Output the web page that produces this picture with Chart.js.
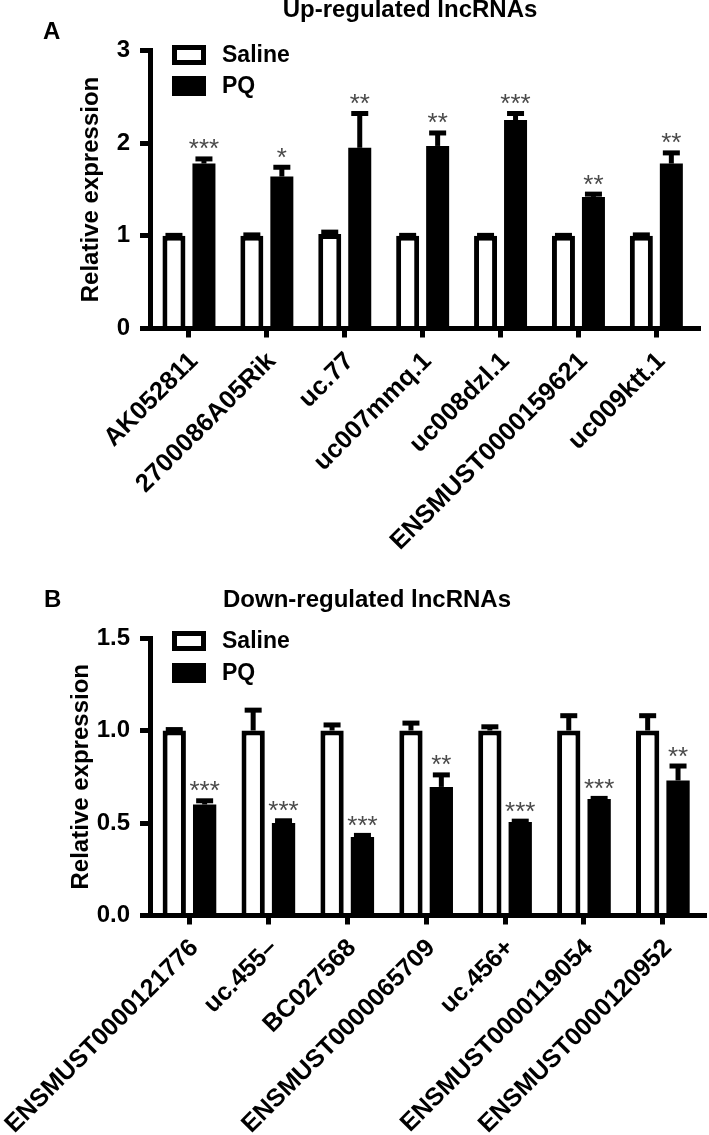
<!DOCTYPE html>
<html><head><meta charset="utf-8">
<script src="https://cdn.jsdelivr.net/npm/chart.js@4.4.0/dist/chart.umd.min.js"></script>
<style>
html,body{margin:0;padding:0;background:#fff;}
#wrapA{position:absolute;left:0;top:0;width:709px;height:560px;}
#wrapB{position:absolute;left:0;top:560px;width:709px;height:575px;}
canvas{display:block;}
</style></head><body>
<div id="wrapA"><canvas id="cA" width="709" height="560"></canvas></div>
<div id="wrapB"><canvas id="cB" width="709" height="575"></canvas></div>
<script>
// ---- Data: panel A (up-regulated) ----
const upCategories = ['AK052811','2700086A05Rik','uc.77','uc007mmq.1','uc008dzl.1','ENSMUST0000159621','uc009ktt.1'];
const upSaline    = [1.00, 1.00, 1.02, 1.00, 1.00, 1.00, 1.00];
const upSalineErr = [0.005, 0.01, 0.02, 0.005, 0.005, 0.005, 0.01];
const upPQ        = [1.78, 1.64, 1.95, 1.97, 2.25, 1.42, 1.78];
const upPQErr     = [0.05, 0.10, 0.37, 0.14, 0.07, 0.03, 0.115];
const upStars     = ['***','*','**','**','***','**','**'];
const upTicks     = [0, 1, 2, 3];

// ---- Data: panel B (down-regulated) ----
const downCategories = ['ENSMUST0000121776','uc.455\u2013','BC027568','ENSMUST0000065709','uc.456+','ENSMUST0000119054','ENSMUST0000120952'];
const downSaline    = [1.00, 1.00, 1.00, 1.00, 1.00, 1.00, 1.00];
const downSalineErr = [0.005, 0.11, 0.03, 0.04, 0.02, 0.08, 0.08];
const downPQ        = [0.60, 0.50, 0.425, 0.695, 0.505, 0.63, 0.73];
const downPQErr     = [0.02, 0.012, 0.008, 0.065, 0.005, 0.003, 0.078];
const downStars     = ['***','***','***','**','***','***','**'];
const downTicks     = [0, 0.5, 1.0, 1.5];

const seriesNames = ['Saline', 'PQ'];
const FONT = '"Liberation Sans", Arial, Helvetica, sans-serif';

const decoPlugin = {
  id: 'deco',
  afterDatasetsDraw(chart, args, o) {
    const ctx = chart.ctx, y = chart.scales.y;
    chart.data.datasets.forEach((ds, di) => {
      const meta = chart.getDatasetMeta(di);
      meta.data.forEach((bar, i) => {
        const v = ds.data[i], e = ds.errors[i];
        const yTop = y.getPixelForValue(v);
        const yErr = y.getPixelForValue(v + e);
        ctx.save();
        ctx.strokeStyle = '#000';
        ctx.lineWidth = 5;
        ctx.beginPath(); ctx.moveTo(bar.x, yTop); ctx.lineTo(bar.x, yErr); ctx.stroke();
        ctx.beginPath(); ctx.moveTo(bar.x - 8.5, yErr); ctx.lineTo(bar.x + 8.5, yErr); ctx.stroke();
        if (ds.stars) {
          ctx.fillStyle = '#4a4a4a';
          ctx.font = '26px ' + FONT;
          ctx.textAlign = 'center';
          ctx.textBaseline = 'alphabetic';
          ctx.fillText(ds.stars[i], bar.x, yErr - 1.5);
        }
        ctx.restore();
      });
    });
  },
  afterDraw(chart, args, o) {
    const ctx = chart.ctx, ca = chart.chartArea;
    ctx.save();
    // x-axis line extension
    ctx.fillStyle = '#000';
    ctx.fillRect(140, ca.bottom - 2.5, ca.left - 140, 5);
    ctx.fillRect(ca.right, ca.bottom - 2.5, o.extRight - ca.right, 5);
    // panel letter and title
    ctx.textBaseline = 'alphabetic';
    ctx.textAlign = 'left';
    ctx.font = 'bold ' + o.letterSize + 'px ' + FONT;
    ctx.fillText(o.letter, o.letterX, o.letterY);
    ctx.textAlign = 'center';
    ctx.font = 'bold ' + o.titleSize + 'px ' + FONT;
    ctx.fillText(o.title, o.titleX, o.titleY);
    // legend
    chart.data.datasets.forEach((ds, di) => {
      const bx = o.legendX, by = o.legendY[di], bw = 34, bh = 20;
      ctx.fillStyle = '#000';
      ctx.fillRect(bx, by, bw, bh);
      if (ds.backgroundColor !== '#000') {
        ctx.fillStyle = ds.backgroundColor;
        ctx.fillRect(bx + 5, by + 5, bw - 10, bh - 10);
      }
      ctx.fillStyle = '#000';
      ctx.textAlign = 'left';
      ctx.textBaseline = 'middle';
      ctx.font = 'bold 23px ' + FONT;
      ctx.fillText(ds.label, bx + 50, by + bh / 2 + 1);
    });
    ctx.restore();
  }
};

function makeChart(id, p) {
  return new Chart(document.getElementById(id), {
    type: 'bar',
    data: {
      labels: p.categories,
      datasets: [
        { label: seriesNames[0], data: p.saline, errors: p.salineErr,
          backgroundColor: '#fff', borderColor: '#000', borderWidth: 5, borderSkipped: 'start',
          categoryPercentage: 0.77, barPercentage: 0.767 },
        { label: seriesNames[1], data: p.pq, errors: p.pqErr, stars: p.stars,
          backgroundColor: '#000', borderColor: '#000', borderWidth: 0,
          categoryPercentage: 0.77, barPercentage: 0.767 }
      ]
    },
    options: {
      responsive: false,
      animation: false,
      devicePixelRatio: 1,
      layout: { padding: { left: p.padLeft, top: p.padTop, right: p.padRight, bottom: 0 } },
      plugins: {
        legend: { display: false },
        title: { display: false },
        tooltip: { enabled: false },
        deco: p.deco
      },
      scales: {
        x: {
          type: 'category',
          offset: true,
          z: 1,
          grid: { offset: false, drawOnChartArea: false, drawTicks: true, tickLength: 9, lineWidth: 5, color: '#000' },
          border: { display: true, width: 5, color: '#000' },
          ticks: { autoSkip: false, maxRotation: 45, minRotation: 45, padding: 9, labelOffset: 5, color: '#000',
                   font: { family: FONT, size: p.xFont, weight: 'bold' } },
          afterFit: s => { s.height = p.xHeight; s.paddingLeft = 0; s.paddingRight = 0; }
        },
        y: {
          type: 'linear',
          min: p.ticks[0], max: p.ticks[p.ticks.length - 1],
          afterBuildTicks: s => { s.ticks = p.ticks.map(v => ({ value: v })); },
          grid: { drawOnChartArea: false, drawTicks: true, tickLength: 10, lineWidth: 5, color: '#000' },
          border: { display: true, width: 5, color: '#000' },
          ticks: { padding: 10, color: '#000', font: { family: FONT, size: 24, weight: 'bold' },
                   callback: v => p.fmt(v) },
          title: { display: true, text: 'Relative expression', color: '#000', padding: 0,
                   font: { family: FONT, size: 24, weight: 'bold' } },
          afterFit: s => { s.width = 150 - p.padLeft; }
        }
      }
    },
    plugins: [decoPlugin]
  });
}

makeChart('cA', {
  categories: upCategories, saline: upSaline, salineErr: upSalineErr, pq: upPQ, pqErr: upPQErr,
  stars: upStars, ticks: upTicks, fmt: v => String(v), xFont: 25.5,
  padLeft: 76.6, padTop: 50.5, padRight: 13.7, xHeight: 231.5,
  deco: { extRight: 701, letter: 'A', letterX: 43, letterY: 39, letterSize: 24,
          title: 'Up-regulated lncRNAs', titleX: 410, titleY: 17, titleSize: 24,
          legendX: 172, legendY: [45, 76] }
});

makeChart('cB', {
  categories: downCategories, saline: downSaline, salineErr: downSalineErr, pq: downPQ, pqErr: downPQErr,
  stars: downStars, ticks: downTicks, fmt: v => v.toFixed(1), xFont: 25,
  padLeft: 66.6, padTop: 78, padRight: 6.7, xHeight: 219.5,
  deco: { extRight: 707, letter: 'B', letterX: 44, letterY: 47, letterSize: 24,
          title: 'Down-regulated lncRNAs', titleX: 367, titleY: 47, titleSize: 24,
          legendX: 172, legendY: [71, 103] }
});
</script>
</body></html>
